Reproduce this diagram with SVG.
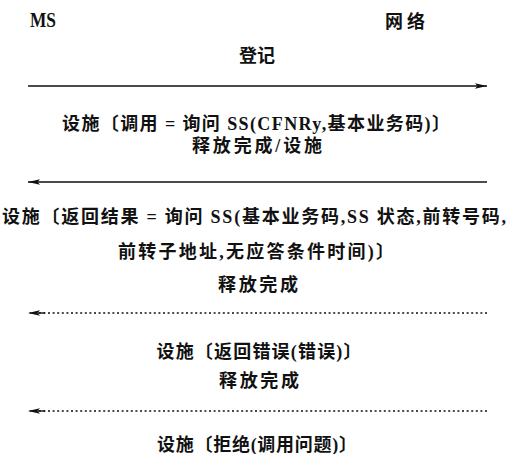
<svg xmlns="http://www.w3.org/2000/svg" width="508" height="454" viewBox="0 0 508 454">
<style>
text{font-family:"Liberation Serif","Noto Sans CJK SC",serif;font-weight:bold;fill:#111;}
.lbl{font-size:18px;text-anchor:middle;}
.msg{stroke:#111;stroke-width:1.4;fill:none;}
.dot{stroke:#111;stroke-width:1.3;fill:none;stroke-dasharray:2 2.6;}
</style>
<defs>
<marker id="headR" markerUnits="userSpaceOnUse" markerWidth="14" markerHeight="8" refX="12" refY="4" orient="auto" overflow="visible">
<path d="M0,1.3 L12,4 L0,6.7 L2.5,4 z" fill="#111"/>
</marker>
<marker id="headL" markerUnits="userSpaceOnUse" markerWidth="16" markerHeight="8" refX="12" refY="4" orient="auto" overflow="visible">
<path d="M0,1.3 L12,4 L0,6.7 L2.5,4 z" fill="#111"/>
<rect x="-5" y="3.3" width="7" height="1.4" fill="#111"/>
</marker>
</defs>
<g id="ms"><text x="30" y="27" font-size="20" textLength="26" lengthAdjust="spacingAndGlyphs">MS</text></g>
<g id="network"><text x="385" y="28" font-size="18" textLength="40">网络</text></g>
<g id="connectors">
<line class="msg" x1="28" y1="86" x2="487" y2="86" marker-end="url(#headR)"/>
<line class="msg" x1="487" y1="182" x2="28" y2="182" marker-end="url(#headR)"/>
<line class="dot" x1="487" y1="313" x2="28" y2="313" marker-end="url(#headL)"/>
<line class="dot" x1="487" y1="411" x2="28" y2="411" marker-end="url(#headL)"/>
</g>
<g id="labels">
<text class="lbl" x="257" y="62" textLength="36">登记</text>
<text class="lbl" x="256" y="130" textLength="388">设施〔调用 = 询问 SS(CFNRy,基本业务码)〕</text>
<text class="lbl" x="257" y="152" textLength="130">释放完成/设施</text>
<text class="lbl" x="254" y="223" textLength="504">设施〔返回结果 = 询问 SS(基本业务码,SS 状态,前转号码,</text>
<text class="lbl" x="256" y="258" textLength="276">前转子地址,无应答条件时间)〕</text>
<text class="lbl" x="258" y="291" textLength="80">释放完成</text>
<text class="lbl" x="259" y="358" textLength="205">设施〔返回错误(错误)〕</text>
<text class="lbl" x="259" y="387" textLength="80">释放完成</text>
<text class="lbl" x="257" y="451" textLength="200">设施〔拒绝(调用问题)〕</text>
</g>
</svg>
